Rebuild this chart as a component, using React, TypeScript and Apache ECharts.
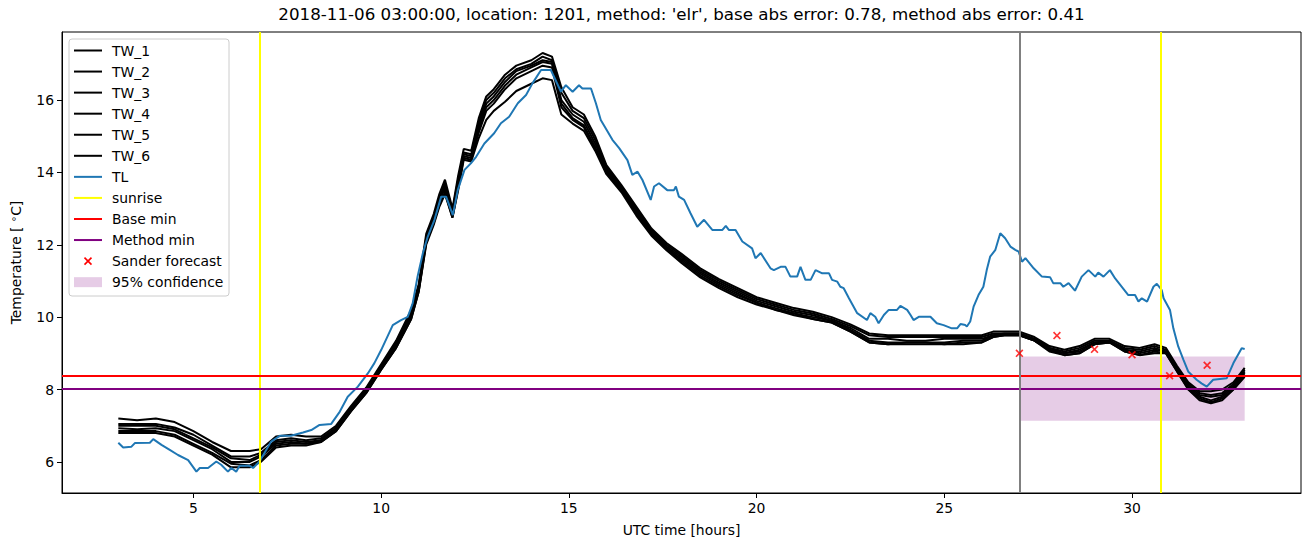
import React, { useEffect, useRef } from "react";
import * as echarts from "echarts";

const TITLE = "2018-11-06 03:00:00, location: 1201, method: 'elr', base abs error: 0.78, method abs error: 0.41";

// TL (blue) observed temperature: [hour, value]
const TL_HOURS = [3.0,3.13,3.35,3.44,3.84,3.93,4.15,4.37,4.59,4.86,5.08,5.17,5.39,5.61,5.74,5.92,6.01,6.14,6.23,6.5,6.59,6.76,7.07,7.3,7.6,7.92,8.14,8.36,8.67,8.9,9.11,9.38,9.65,9.82,10.0,10.31,10.53,10.71,10.84,10.97,11.11,11.24,11.42,11.6,11.73,11.91,12.04,12.22,12.39,12.53,12.75,13.01,13.19,13.41,13.64,13.86,14.03,14.26,14.52,14.79,14.92,15.1,15.27,15.36,15.59,15.72,15.85,15.98,16.16,16.34,16.56,16.69,16.83,16.96,17.18,17.27,17.4,17.62,17.8,17.85,17.93,18.07,18.24,18.42,18.6,18.82,19.09,19.18,19.26,19.44,19.62,19.88,19.97,20.11,20.37,20.46,20.64,20.77,20.9,21.08,21.17,21.3,21.44,21.57,21.75,21.93,22.01,22.15,22.23,22.32,22.46,22.68,22.94,23.03,23.16,23.25,23.39,23.52,23.74,23.83,24.01,24.1,24.18,24.32,24.63,24.8,24.98,25.2,25.34,25.43,25.56,25.6,25.69,25.78,25.91,26.04,26.13,26.22,26.36,26.49,26.62,26.76,26.89,26.98,27.07,27.16,27.38,27.6,27.82,27.9,28.09,28.17,28.31,28.48,28.66,28.84,29.02,29.1,29.24,29.41,29.55,29.9,30.08,30.17,30.26,30.4,30.57,30.66,30.79,30.84,31.01,31.1,31.23,31.37,31.5,31.72,31.85,31.99,32.16,32.34,32.52,32.7,32.92,33.0];
const TL_VALUES = [6.53,6.4,6.42,6.52,6.53,6.63,6.47,6.33,6.19,6.05,5.73,5.83,5.83,6.01,5.92,5.73,5.83,5.73,5.89,5.89,5.83,6.01,6.56,6.72,6.72,6.81,6.88,7.02,7.05,7.39,7.8,8.08,8.45,8.73,9.09,9.78,9.92,10.01,10.38,11.12,11.76,12.22,12.69,13.33,13.33,12.82,13.51,14.07,14.25,14.43,14.8,15.08,15.36,15.54,15.91,16.14,16.46,16.83,16.83,16.23,16.41,16.23,16.41,16.32,16.32,15.91,15.45,15.22,14.9,14.67,14.34,13.93,14.02,13.79,13.24,13.61,13.7,13.51,13.51,13.61,13.33,13.24,12.87,12.5,12.69,12.41,12.41,12.52,12.41,12.41,12.09,11.9,11.63,11.77,11.35,11.3,11.39,11.39,11.12,11.12,11.39,11.03,11.03,11.3,11.21,11.21,11.03,10.98,10.84,10.8,10.52,10.11,9.92,10.11,10.01,9.83,10.06,10.2,10.2,10.31,10.2,10.06,9.92,10.01,10.01,9.83,9.78,9.69,9.69,9.81,9.78,9.74,9.88,10.29,10.61,10.84,11.3,11.67,11.86,12.32,12.18,11.95,11.86,11.81,11.53,11.63,11.35,11.12,11.1,10.94,10.94,10.84,10.94,10.73,11.12,11.3,11.12,11.23,11.12,11.3,11.07,10.61,10.61,10.43,10.52,10.43,10.84,10.92,10.75,10.52,10.2,9.69,9.19,8.82,8.49,8.27,8.17,8.08,8.27,8.29,8.31,8.73,9.14,9.12];

// TW lines share one hour grid
const TW_HOURS = [3,3.5,4,4.5,5,5.5,6,6.5,6.8,7.2,7.6,8,8.4,8.8,9.2,9.6,10,10.4,10.8,11,11.2,11.4,11.55,11.7,11.9,12.05,12.2,12.4,12.6,12.8,13,13.3,13.6,14,14.3,14.55,14.8,15.1,15.4,15.7,16,16.4,16.8,17.2,17.6,18,18.5,19,19.5,20,20.5,21,21.5,22,22.5,23,23.5,24,24.5,25,25.5,26,26.3,26.6,27,27.4,27.8,28.2,28.6,29,29.4,29.8,30.2,30.6,30.9,31.2,31.5,31.8,32.1,32.4,32.7,33];
const TW_1 = [7.2,7.15,7.2,7.1,6.85,6.55,6.3,6.3,6.35,6.7,6.75,6.7,6.7,7.0,7.55,8.05,8.7,9.35,10.2,10.9,12.3,12.85,13.4,13.8,13.0,13.9,14.65,14.6,15.5,16.1,16.3,16.7,16.95,17.1,17.3,17.2,16.35,15.8,15.6,15.0,14.2,13.65,13.05,12.45,12.05,11.75,11.35,11.05,10.8,10.55,10.4,10.25,10.15,10.0,9.8,9.55,9.5,9.5,9.5,9.5,9.5,9.5,9.6,9.6,9.6,9.45,9.2,9.1,9.2,9.4,9.4,9.2,9.15,9.25,9.15,8.65,8.2,7.95,7.95,8.0,8.2,8.6];
const TW_2 = [7.05,7.05,7.05,6.95,6.75,6.45,6.15,6.15,6.25,6.6,6.65,6.6,6.65,6.95,7.5,8.0,8.65,9.3,10.1,10.85,12.2,12.75,13.3,13.7,12.95,13.8,14.55,14.5,15.4,16.0,16.2,16.6,16.85,17.0,17.2,17.1,16.2,15.7,15.5,14.9,14.15,13.6,13.0,12.4,12.0,11.7,11.3,11.0,10.75,10.5,10.35,10.2,10.1,9.95,9.75,9.5,9.45,9.45,9.45,9.45,9.45,9.45,9.55,9.55,9.55,9.4,9.15,9.05,9.15,9.35,9.35,9.15,9.1,9.2,9.1,8.6,8.15,7.9,7.85,7.9,8.15,8.55];
const TW_3 = [7.0,7.0,7.0,6.9,6.65,6.4,6.1,6.05,6.2,6.55,6.6,6.55,6.6,6.9,7.45,7.95,8.6,9.25,10.05,10.8,12.15,12.7,13.25,13.6,12.85,13.7,14.5,14.45,15.3,15.9,16.1,16.5,16.8,16.95,17.1,17.05,16.0,15.6,15.4,14.8,14.1,13.55,12.95,12.35,11.95,11.65,11.25,10.95,10.7,10.45,10.3,10.15,10.05,9.9,9.7,9.4,9.4,9.35,9.35,9.4,9.4,9.4,9.5,9.55,9.55,9.4,9.15,9.0,9.1,9.3,9.35,9.1,9.05,9.15,9.05,8.55,8.1,7.85,7.8,7.85,8.1,8.5];
const TW_4 = [6.93,6.9,6.93,6.85,6.6,6.35,6.0,6.0,6.15,6.5,6.55,6.5,6.6,6.9,7.45,7.95,8.6,9.2,10.0,10.75,12.1,12.65,13.2,13.55,12.8,13.6,14.45,14.4,15.2,15.8,16.0,16.4,16.7,16.9,17.05,17.0,15.9,15.5,15.3,14.7,14.05,13.5,12.9,12.3,11.9,11.6,11.2,10.9,10.65,10.4,10.25,10.1,10.0,9.9,9.65,9.35,9.3,9.3,9.3,9.3,9.35,9.35,9.5,9.5,9.5,9.35,9.1,9.0,9.05,9.3,9.3,9.1,9.0,9.1,9.05,8.55,8.05,7.8,7.7,7.8,8.05,8.45];
const TW_5 = [6.85,6.85,6.85,6.75,6.5,6.25,5.95,5.9,6.05,6.45,6.5,6.5,6.55,6.85,7.4,7.9,8.55,9.15,9.95,10.7,12.05,12.6,13.1,13.45,12.75,13.55,14.4,14.35,15.1,15.7,15.9,16.3,16.6,16.8,16.95,16.9,15.8,15.45,15.25,14.65,14.0,13.5,12.85,12.3,11.9,11.55,11.15,10.85,10.6,10.4,10.2,10.1,9.95,9.85,9.6,9.3,9.25,9.3,9.3,9.25,9.3,9.3,9.45,9.5,9.5,9.35,9.1,8.95,9.0,9.25,9.3,9.05,8.95,9.05,9.0,8.5,8.0,7.75,7.65,7.75,8.0,8.4];
const TW_6 = [6.8,6.8,6.8,6.7,6.45,6.2,5.85,5.85,6.0,6.4,6.45,6.45,6.55,6.85,7.4,7.9,8.55,9.15,9.95,10.7,12.0,12.55,13.05,13.4,12.75,13.5,14.35,14.3,14.95,15.45,15.7,15.95,16.25,16.45,16.6,16.55,15.6,15.35,15.15,14.6,13.95,13.45,12.8,12.25,11.85,11.5,11.1,10.8,10.55,10.35,10.2,10.05,9.95,9.85,9.6,9.3,9.25,9.25,9.25,9.25,9.25,9.3,9.45,9.5,9.5,9.35,9.05,8.95,9.0,9.25,9.3,9.05,8.95,9.0,9.0,8.5,8.0,7.7,7.62,7.7,8.0,8.35];
const TW_NAMES = ["TW_1", "TW_2", "TW_3", "TW_4", "TW_5", "TW_6"];
const TW_ALL = [TW_1, TW_2, TW_3, TW_4, TW_5, TW_6];

const SUNRISE_HOURS = [6.78, 30.77];
const FORECAST_START = 27.0;
const BASE_MIN = 8.38;
const METHOD_MIN = 8.02;
const SANDER_HOURS = [27, 28, 29, 30, 31, 32];
const SANDER_VALUES = [9.0, 9.49, 9.11, 8.96, 8.38, 8.67];
const CONF_HOURS = [27.0, 33.0];
const CONF_RANGE = [7.14, 8.91];

const X_TICKS = [5, 10, 15, 20, 25, 30];
const Y_TICKS = [6, 8, 10, 12, 14, 16];

const LEGEND_LABELS = ["TW_1", "TW_2", "TW_3", "TW_4", "TW_5", "TW_6", "TL", "sunrise", "Base min", "Method min", "Sander forecast", "95% confidence"];

const FONT = "DejaVu Sans";
const BLUE = "#1f77b4";
const XMARK = "path://M0,1.5L1.5,0L5,3.5L8.5,0L10,1.5L6.5,5L10,8.5L8.5,10L5,6.5L1.5,10L0,8.5L3.5,5Z";

export default function App() {
  const ref = useRef<HTMLDivElement>(null);
  useEffect(() => {
    if (!ref.current) return;
    const chart = echarts.init(ref.current, undefined, { renderer: "svg" });

    const series: any[] = [];
    TW_ALL.forEach((vals, i) => {
      series.push({
        name: TW_NAMES[i],
        type: "line",
        data: TW_HOURS.map((h, j) => [h, vals[j]]),
        symbol: "none",
        lineStyle: { color: "#000", width: 2 },
        z: 3,
      });
    });
    series.push({
      name: "TL",
      type: "line",
      data: TL_HOURS.map((h, j) => [h, TL_VALUES[j]]),
      symbol: "none",
      lineStyle: { color: BLUE, width: 2 },
      z: 4,
    });
    series.push({
      name: "sunrise",
      type: "line",
      data: [],
      markLine: {
        silent: true,
        symbol: "none",
        label: { show: false },
        lineStyle: { color: "#ffff00", width: 2, type: "solid" },
        data: SUNRISE_HOURS.map((h) => ({ xAxis: h })),
      },
      z: 5,
    });
    series.push({
      name: "Base min",
      type: "line",
      data: [],
      markLine: {
        silent: true,
        symbol: "none",
        label: { show: false },
        lineStyle: { color: "#ff0000", width: 2, type: "solid" },
        data: [{ yAxis: BASE_MIN }],
      },
      z: 5,
    });
    series.push({
      name: "Method min",
      type: "line",
      data: [],
      markLine: {
        silent: true,
        symbol: "none",
        label: { show: false },
        lineStyle: { color: "#800080", width: 2, type: "solid" },
        data: [{ yAxis: METHOD_MIN }],
      },
      z: 5,
    });
    series.push({
      name: "Sander forecast",
      type: "scatter",
      data: SANDER_HOURS.map((h, j) => [h, SANDER_VALUES[j]]),
      symbol: XMARK,
      symbolSize: 8,
      itemStyle: { color: "#ff0000" },
      z: 6,
    });
    series.push({
      name: "95% confidence",
      type: "line",
      data: [],
      markArea: {
        silent: true,
        itemStyle: { color: "rgba(128,0,128,0.2)" },
        data: [[{ xAxis: CONF_HOURS[0], yAxis: CONF_RANGE[0] }, { xAxis: CONF_HOURS[1], yAxis: CONF_RANGE[1] }]],
      },
      z: 1,
    });
    series.push({
      name: "forecast start",
      type: "line",
      data: [],
      markLine: {
        silent: true,
        symbol: "none",
        label: { show: false },
        lineStyle: { color: "#808080", width: 2, type: "solid" },
        data: [{ xAxis: FORECAST_START }],
      },
      z: 5,
    });

    // legend drawn as graphic
    const lx = 69, ly = 39, rowH = 21.06, firstY = 50.5;
    const colors = ["#000", "#000", "#000", "#000", "#000", "#000", BLUE, "#ffff00", "#ff0000", "#800080"];
    const legendEls: any[] = [
      {
        type: "rect",
        shape: { x: lx, y: ly, width: 160, height: 257, r: 3 },
        style: { fill: "rgba(255,255,255,0.8)", stroke: "#cccccc", lineWidth: 1 },
        z: 100,
      },
    ];
    LEGEND_LABELS.forEach((label, i) => {
      const cy = firstY + i * rowH;
      if (i < colors.length) {
        legendEls.push({
          type: "line",
          shape: { x1: 74, y1: cy, x2: 102, y2: cy },
          style: { stroke: colors[i], lineWidth: 2 },
          z: 101,
        });
      } else if (label === "Sander forecast") {
        legendEls.push({
          type: "line",
          shape: { x1: 84.5, y1: cy - 3.5, x2: 91.5, y2: cy + 3.5 },
          style: { stroke: "#ff0000", lineWidth: 1.6 },
          z: 101,
        });
        legendEls.push({
          type: "line",
          shape: { x1: 84.5, y1: cy + 3.5, x2: 91.5, y2: cy - 3.5 },
          style: { stroke: "#ff0000", lineWidth: 1.6 },
          z: 101,
        });
      } else {
        legendEls.push({
          type: "rect",
          shape: { x: 74, y: cy - 5, width: 28, height: 10 },
          style: { fill: "rgba(128,0,128,0.2)" },
          z: 101,
        });
      }
      legendEls.push({
        type: "text",
        x: 112,
        y: cy,
        style: { text: label, fill: "#000", font: `13.9px ${FONT}`, verticalAlign: "middle", align: "left" },
        z: 101,
      });
    });

    chart.setOption({
      animation: false,
      backgroundColor: "#fff",
      textStyle: { fontFamily: FONT },
      title: {
        text: TITLE,
        left: 681.5,
        textAlign: "center",
        top: 5,
        padding: 0,
        textStyle: { fontFamily: FONT, fontSize: 16.7, fontWeight: "normal", color: "#000" },
      },
      grid: { left: 62, right: 10, top: 32, bottom: 54, show: true, borderColor: "#000", borderWidth: 1, backgroundColor: "transparent" },
      xAxis: {
        type: "value",
        min: 1.5,
        max: 34.5,
        name: "UTC time [hours]",
        nameLocation: "middle",
        nameGap: 30,
        nameTextStyle: { fontFamily: FONT, fontSize: 13.9, color: "#000" },
        axisLine: { show: true, onZero: false, lineStyle: { color: "#000", width: 1 } },
        axisTick: { show: true, inside: false, length: 5, customValues: X_TICKS, lineStyle: { color: "#000" } },
        axisLabel: { customValues: X_TICKS, color: "#000", fontFamily: FONT, fontSize: 13.9, margin: 8 },
        splitLine: { show: false },
      },
      yAxis: {
        type: "value",
        min: 5.14,
        max: 17.88,
        name: "Temperature [ {d|∘}C]",
        nameLocation: "middle",
        nameGap: 38,
        nameRotate: 90,
        nameTextStyle: {
          fontFamily: FONT,
          fontSize: 13.9,
          color: "#000",
          rich: { d: { fontFamily: FONT, fontSize: 10, color: "#000", padding: [0, 0, 6, 0] } },
        },
        axisLine: { show: true, onZero: false, lineStyle: { color: "#000", width: 1 } },
        axisTick: { show: true, inside: false, length: 5, customValues: Y_TICKS, lineStyle: { color: "#000" } },
        axisLabel: { customValues: Y_TICKS, color: "#000", fontFamily: FONT, fontSize: 13.9, margin: 8 },
        splitLine: { show: false },
      },
      graphic: legendEls,
      series,
    });
    return () => chart.dispose();
  }, []);
  return <div ref={ref} style={{ width: 1311, height: 547, position: "absolute", left: 0, top: 0 }} />;
}
